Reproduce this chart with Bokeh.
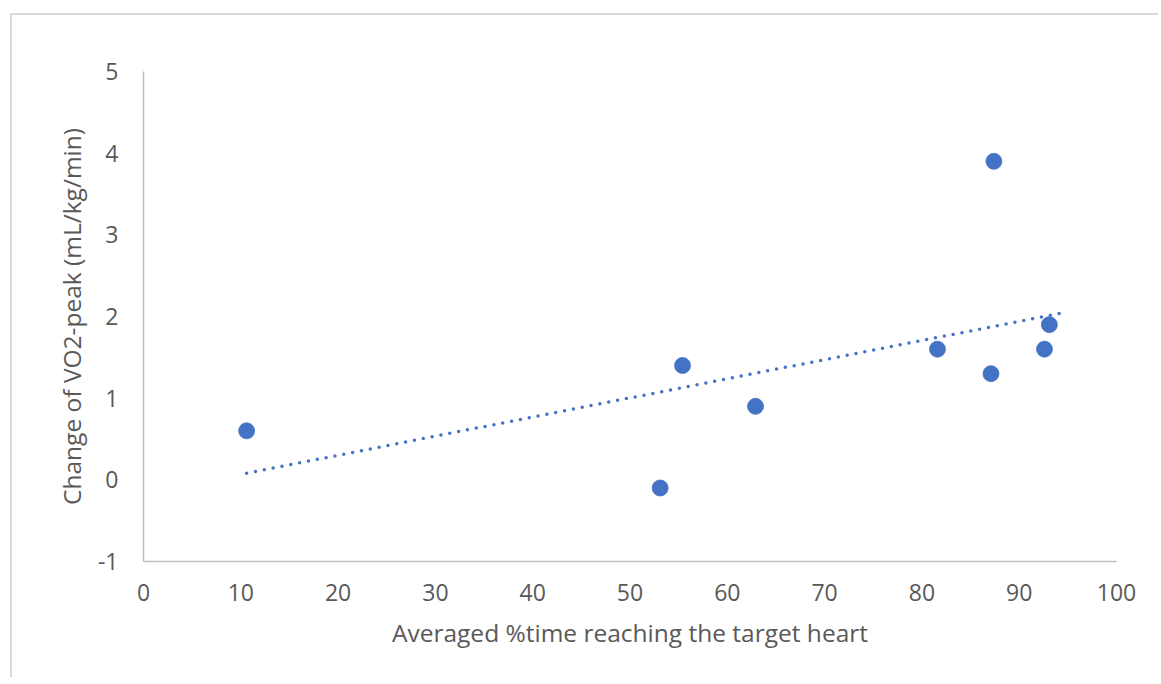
import numpy as np
from bokeh.plotting import figure
from bokeh.models import Range1d, FixedTicker, ColumnDataSource, PrintfTickFormatter
from bokeh.embed import file_html
from bokeh.resources import INLINE

# ---- data ----
time_pct = [10.6, 53.1, 55.4, 62.9, 81.6, 87.4, 87.1, 92.6, 93.1]
vo2_change = [0.6, -0.1, 1.4, 0.9, 1.6, 3.9, 1.3, 1.6, 1.9]
x_ticks = [0, 10, 20, 30, 40, 50, 60, 70, 80, 90, 100]
y_ticks = [-1, 0, 1, 2, 3, 4, 5]
trend_x_end = 95

x_title = "Averaged %time reaching the target heart"
y_title = "Change of VO2-peak (mL/kg/min)"

BLUE = "#4472C4"
TEXT = "#595959"
AXIS = "#BFBFBF"
FONT = "Open Sans"

p = figure(width=1148, height=664, output_backend="svg", toolbar_location=None,
           x_range=Range1d(0, 100), y_range=Range1d(-1, 5),
           min_border_left=131, min_border_right=44, min_border_top=56, min_border_bottom=118)
p.margin = (13, 0, 0, 10)
p.styles = {"border-left": "2px solid #D9D9D9", "border-top": "2px solid #D9D9D9"}
p.outline_line_color = None
p.grid.grid_line_color = None
p.background_fill_color = "white"
p.border_fill_color = "white"

# trendline (linear least squares on the data)
slope, intercept = np.polyfit(time_pct, vo2_change, 1)
tx = np.array([min(time_pct), trend_x_end])
p.line(tx, slope * tx + intercept, line_color=BLUE, line_width=3.5,
       line_dash="0 9", line_cap="round")

src = ColumnDataSource(dict(x=time_pct, y=vo2_change))
p.scatter("x", "y", source=src, size=16, fill_color=BLUE, line_color=BLUE, line_width=0.8)

for ax in (p.xaxis[0], p.yaxis[0]):
    ax.axis_line_color = AXIS
    ax.axis_line_width = 1.6
    ax.major_tick_line_color = None
    ax.minor_tick_line_color = None
    ax.major_label_text_font = FONT
    ax.major_label_text_font_size = "23px"
    ax.major_label_text_color = TEXT
    ax.axis_label_text_font = FONT
    ax.axis_label_text_font_size = "24.5px"
    ax.axis_label_text_color = TEXT
    ax.axis_label_text_font_style = "normal"
    ax.formatter = PrintfTickFormatter(format="%d")

p.xaxis.ticker = FixedTicker(ticks=x_ticks)
p.yaxis.ticker = FixedTicker(ticks=y_ticks)
p.xaxis.axis_label = x_title
p.yaxis.axis_label = y_title
p.xaxis.major_label_standoff = 16
p.yaxis.major_label_standoff = 19
p.xaxis.axis_label_standoff = 12
p.yaxis.axis_label_standoff = 7

open("out.html", "w").write(file_html(p, INLINE))
